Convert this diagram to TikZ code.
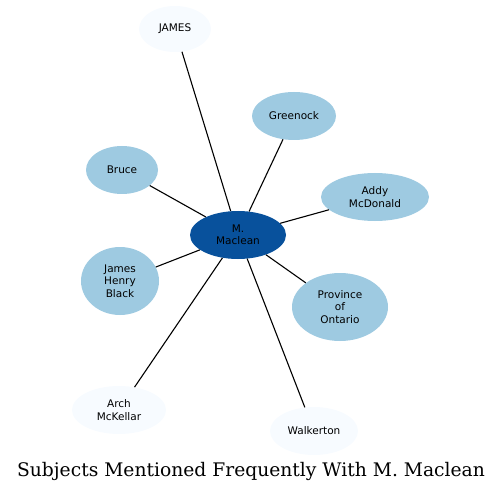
\documentclass[tikz,border=0pt]{standalone}
\usepackage{fontspec}
\newfontfamily\nodefont{DejaVu Sans}
\newfontfamily\titlefont{DejaVu Serif}
\usetikzlibrary{shapes.geometric}
\definecolor{pale}{HTML}{F7FBFF}
\definecolor{mid}{HTML}{9ECAE1}
\definecolor{hub}{HTML}{08519C}
\tikzset{
  bub/.style={ellipse, inner sep=0pt, align=center, font=\nodefont\fontsize{10.5}{12.3}\selectfont, text=black},
  palebub/.style={bub, fill=pale},
  midbub/.style={bub, fill=mid},
  hubbub/.style={bub, fill=hub},
  link/.style={draw=black, line width=1.1pt}
}
\begin{document}
\begin{tikzpicture}[x=1pt,y=-1pt]
\useasboundingbox (0,0) rectangle (501,492);
\node[hubbub, minimum width=96pt, minimum height=48pt] (mac) at (238,235) {M.\\Maclean};
\node[palebub, minimum width=72pt, minimum height=46pt] (james) at (175,29) {JAMES};
\node[midbub, minimum width=84pt, minimum height=48pt] (green) at (294,116) {Greenock};
\node[midbub, minimum width=72pt, minimum height=48pt] (bruce) at (122,170) {Bruce};
\node[midbub, minimum width=108pt, minimum height=48pt] (addy) at (375,197) {Addy\\McDonald};
\node[midbub, minimum width=78pt, minimum height=68pt] (jhb) at (120,281) {James\\Henry\\Black};
\node[midbub, minimum width=96pt, minimum height=68pt] (prov) at (340,307) {Province\\of\\Ontario};
\node[palebub, minimum width=94pt, minimum height=48pt] (arch) at (119,410) {Arch\\McKellar};
\node[palebub, minimum width=88pt, minimum height=48pt] (walk) at (314,431) {Walkerton};
\draw[link] (mac) -- (james);
\draw[link] (mac) -- (green);
\draw[link] (mac) -- (bruce);
\draw[link] (mac) -- (addy);
\draw[link] (mac) -- (jhb);
\draw[link] (mac) -- (prov);
\draw[link] (mac) -- (arch);
\draw[link] (mac) -- (walk);
\node[font=\titlefont\fontsize{18.7}{22}\selectfont, anchor=base] (title) at (251,476) {Subjects Mentioned Frequently With M. Maclean};
\end{tikzpicture}
\end{document}
